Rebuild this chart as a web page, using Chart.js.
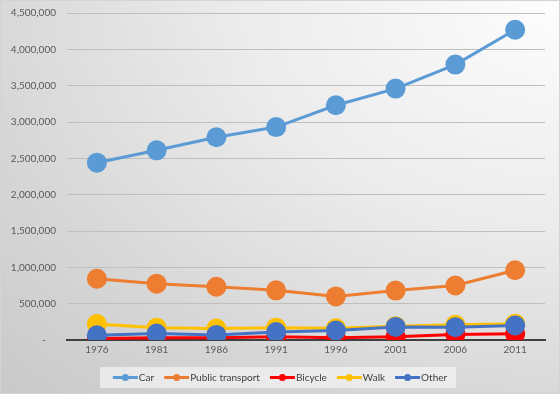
<!DOCTYPE html>
<html>
<head>
<meta charset="utf-8">
<script src="https://cdn.jsdelivr.net/npm/chart.js@4"></script>
<style>
  html, body { margin: 0; padding: 0; }
  #wrap {
    position: relative;
    width: 558px; height: 392px;
    border: 1px solid #d4d4d4;
    background: radial-gradient(ellipse at 100% 0%, #fdfdfd 0%, #ececec 40%, #d6d6d6 75%, #c9c9c9 100%);
  }
</style>
</head>
<body>
<div id="wrap"><canvas id="chart" width="558" height="392"></canvas></div>
<script>
const years = ['1976', '1981', '1986', '1991', '1996', '2001', '2006', '2011'];
const car = [2440000, 2610000, 2790000, 2930000, 3230000, 3460000, 3790000, 4270000];
const publicTransport = [843000, 775000, 733000, 683000, 600000, 680000, 750000, 960000];
const bicycle = [20000, 30000, 30000, 45000, 30000, 45000, 75000, 85000];
const walk = [220000, 170000, 157000, 170000, 160000, 190000, 210000, 225000];
const other = [65000, 88000, 70000, 110000, 130000, 180000, 175000, 200000];
const seriesNames = ['Car', 'Public transport', 'Bicycle', 'Walk', 'Other'];
const seriesColors = ['#5b9bd5', '#ed7d31', '#ff0000', '#ffc000', '#4472c4'];

const font = 'Lato, "Liberation Sans", sans-serif';

const makeSet = (i, data) => ({
  label: seriesNames[i],
  data: data,
  borderColor: seriesColors[i],
  backgroundColor: seriesColors[i],
  borderWidth: 3,
  pointRadius: 10,
  pointHoverRadius: 10,
  pointBorderWidth: 0,
  tension: 0,
  order: 5 - i
});

// legend drawn by hand so the symbol is a line with a dot
const legendBox = {
  id: 'legendBox',
  afterDraw(chart) {
    const c = chart.ctx;
    c.save();
    c.fillStyle = 'rgba(242,242,242,0.75)';
    c.fillRect(99, 366, 356, 21);
    c.font = '10px ' + font;
    c.textBaseline = 'middle';
    const gap = 10, sym = 25;
    let total = 0;
    const widths = seriesNames.map(n => c.measureText(n).width);
    widths.forEach(w => total += sym + 1 + w);
    total += gap * (seriesNames.length - 1);
    let x = 279 - total / 2;
    const y = 376.5;
    seriesNames.forEach((n, i) => {
      c.strokeStyle = seriesColors[i];
      c.lineWidth = 3;
      c.beginPath();
      c.moveTo(x, y);
      c.lineTo(x + sym, y);
      c.stroke();
      c.fillStyle = seriesColors[i];
      c.beginPath();
      c.arc(x + sym / 2, y, 3.5, 0, Math.PI * 2);
      c.fill();
      c.fillStyle = '#404040';
      c.fillText(n, x + sym + 1, y + 0.5);
      x += sym + 1 + widths[i] + gap;
    });
    c.restore();
  }
};

const chartInit = () => {
  const ctx = document.getElementById('chart').getContext('2d');
  new Chart(ctx, {
    type: 'line',
    data: {
      labels: years,
      datasets: [
        makeSet(0, car),
        makeSet(1, publicTransport),
        makeSet(2, bicycle),
        makeSet(3, walk),
        makeSet(4, other)
      ]
    },
    options: {
      responsive: false,
      animation: false,
      layout: { padding: { top: 12, left: 9, right: 14, bottom: 31 } },
      plugins: {
        legend: { display: false },
        tooltip: { enabled: false }
      },
      scales: {
        x: {
          offset: true,
          grid: { display: false, drawTicks: false },
          border: { display: true, color: '#404040', width: 2 },
          ticks: { color: '#595959', font: { family: font, size: 10 }, padding: 4 },
          afterFit: s => { s.height = 22; }
        },
        y: {
          min: 0,
          max: 4500000,
          border: { display: false },
          grid: {
            color: c => c.tick.value === 0 ? 'rgba(0,0,0,0)' : '#bfbfbf',
            drawTicks: false
          },
          ticks: {
            stepSize: 500000,
            color: '#595959',
            padding: 11,
            font: { family: font, size: 10 },
            callback: v => v === 0 ? '-    ' : v.toLocaleString('en-US')
          },
          afterFit: s => { s.width = 57; s.paddingTop = 6; s.paddingBottom = 6; }
        }
      }
    },
    plugins: [legendBox]
  });
};

chartInit();
</script>
</body>
</html>
